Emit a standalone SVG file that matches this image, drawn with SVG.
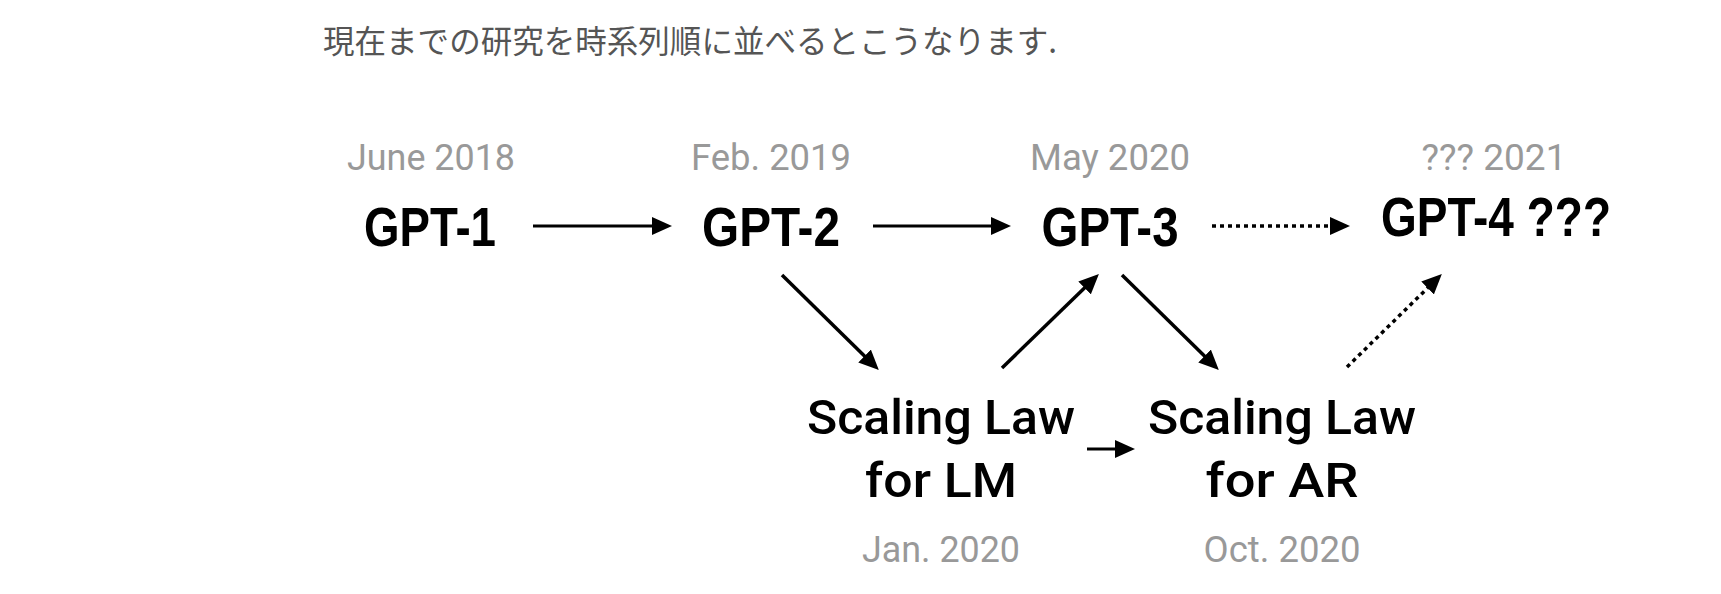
<svg xmlns="http://www.w3.org/2000/svg" width="1721" height="594" viewBox="0 0 1721 594">
<style>
.intro{font-family:"Noto Sans CJK JP","Noto Sans",sans-serif;font-size:32px;fill:#555}
.date{font-family:Roboto,"Liberation Sans",sans-serif;font-weight:400;font-size:36px;fill:#999;text-anchor:middle}
.gpt{font-family:"Liberation Sans",Arial,sans-serif;font-weight:bold;font-size:55px;fill:#000;text-anchor:middle}
.law{font-family:Roboto,"Liberation Sans",sans-serif;font-weight:500;font-size:48px;fill:#000;text-anchor:middle}
.arr{stroke:#000;stroke-width:3;fill:none;marker-end:url(#ah)}
.diag{stroke-width:3.5}
.dot{stroke-dasharray:4 4;stroke-width:3.5}
</style>
<defs>
<marker id="ah" markerUnits="userSpaceOnUse" markerWidth="20" markerHeight="18" refX="2" refY="9" orient="auto">
<path d="M0,0 L20,9 L0,18 z" fill="#000"/>
</marker>
</defs>
<rect width="1721" height="594" fill="#fff"/>
<text class="intro" x="323" y="53" textLength="734" lengthAdjust="spacingAndGlyphs">現在までの研究を時系列順に並べるとこうなります.</text>
<g id="gpt1">
<text class="date" x="431" y="170" textLength="168" lengthAdjust="spacingAndGlyphs">June 2018</text>
<text class="gpt" x="430" y="246" textLength="132" lengthAdjust="spacingAndGlyphs">GPT-1</text>
</g>
<g id="gpt2">
<text class="date" x="771" y="170" textLength="160" lengthAdjust="spacingAndGlyphs">Feb. 2019</text>
<text class="gpt" x="771" y="246" textLength="138" lengthAdjust="spacingAndGlyphs">GPT-2</text>
</g>
<g id="gpt3">
<text class="date" x="1110" y="170" textLength="160" lengthAdjust="spacingAndGlyphs">May 2020</text>
<text class="gpt" x="1110" y="246" textLength="137" lengthAdjust="spacingAndGlyphs">GPT-3</text>
</g>
<g id="gpt4">
<text class="date" x="1494" y="170" textLength="145" lengthAdjust="spacingAndGlyphs">??? 2021</text>
<text class="gpt" x="1496" y="236" textLength="230" lengthAdjust="spacingAndGlyphs">GPT-4 ???</text>
</g>
<g id="lawlm">
<text class="law" x="941" y="434" textLength="268" lengthAdjust="spacingAndGlyphs">Scaling Law</text>
<text class="law" x="941" y="497" textLength="152" lengthAdjust="spacingAndGlyphs">for LM</text>
<text class="date" x="941" y="562" textLength="158" lengthAdjust="spacingAndGlyphs">Jan. 2020</text>
</g>
<g id="lawar">
<text class="law" x="1282" y="434" textLength="268" lengthAdjust="spacingAndGlyphs">Scaling Law</text>
<text class="law" x="1282" y="497" textLength="153" lengthAdjust="spacingAndGlyphs">for AR</text>
<text class="date" x="1282" y="562" textLength="157" lengthAdjust="spacingAndGlyphs">Oct. 2020</text>
</g>
<g id="connectors">
<line class="arr" x1="533" y1="226" x2="654" y2="226"/>
<line class="arr" x1="873" y1="226" x2="993" y2="226"/>
<line class="arr dot" x1="1212" y1="226" x2="1332" y2="226"/>
<line class="arr diag" x1="782" y1="275" x2="866" y2="357.4"/>
<line class="arr diag" x1="1002" y1="368" x2="1086" y2="286.5"/>
<line class="arr diag" x1="1122" y1="275" x2="1206" y2="357.4"/>
<line class="arr dot" x1="1347" y1="367" x2="1429" y2="286.6"/>
<line class="arr" x1="1087" y1="449" x2="1117" y2="449"/>
</g>
</svg>
